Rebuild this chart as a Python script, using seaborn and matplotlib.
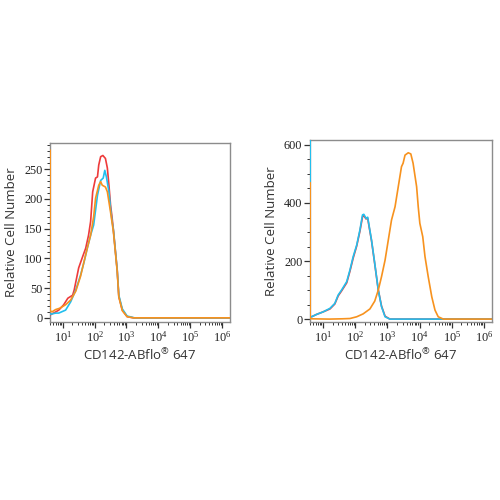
import numpy as np
import pandas as pd
import seaborn as sns
import matplotlib
matplotlib.use("Agg")
from matplotlib import pyplot as plt
from matplotlib.ticker import LogLocator, FuncFormatter, MultipleLocator, NullFormatter

# left panel (log10 of fluorescence, relative cell number)
left_red_x = [0.61, 0.78, 0.875, 1.03, 1.16, 1.31, 1.36, 1.5, 1.625, 1.72, 1.81, 1.875, 1.94, 2.03, 2.09, 2.13,
              2.19, 2.26, 2.34, 2.40, 2.45, 2.5, 2.55, 2.59, 2.71, 2.76, 2.87, 3.02, 3.22, 3.44, 6.25]
left_red_y = [5, 10, 13, 22, 33, 38, 47, 84, 103, 117, 139, 162, 212, 235, 237, 257,
              271, 273, 268, 252, 223, 190, 168, 148, 80, 36, 13, 2, 0, 0, 0]

left_cyan_x = [0.61, 0.78, 0.875, 1.09, 1.25, 1.41, 1.56, 1.67, 1.77, 1.875, 1.97, 2.09, 2.19, 2.27, 2.32,
               2.37, 2.45, 2.5, 2.55, 2.59, 2.71, 2.76, 2.87, 3.02, 3.25, 3.44, 6.25]
left_cyan_y = [6, 8, 8, 13, 27, 47, 72, 94, 117, 139, 156, 206, 231, 235, 248,
               237, 212, 184, 162, 148, 80, 38, 15, 3, 0, 0, 0]

left_orange_x = [0.605, 0.605, 0.66, 0.78, 0.9, 1.09, 1.25, 1.41, 1.56, 1.67, 1.77, 1.875, 1.97, 2.03, 2.13,
                 2.19, 2.24, 2.34, 2.40, 2.5, 2.59, 2.71, 2.76, 2.87, 3.02, 3.22, 3.44, 6.25]
left_orange_y = [282, 12, 10, 14, 16, 22, 30, 45, 70, 95, 117, 139, 170, 201, 223,
                 229, 223, 220, 212, 178, 145, 78, 35, 12, 2, 0, 0, 0]

# right panel
right_red_x = [0.65, 0.80, 1.01, 1.22, 1.37, 1.475, 1.58, 1.74, 1.84, 1.94, 2.05, 2.15, 2.23, 2.27,
               2.34, 2.39, 2.44, 2.51, 2.61, 2.72, 2.82, 2.93, 3.08, 6.25]
right_red_y = [8, 16, 25, 35, 52, 80, 97, 125, 165, 210, 252, 303, 352, 357,
               345, 348, 315, 270, 190, 100, 45, 10, 0, 0]

right_cyan_x = [0.605, 0.605, 0.65, 0.80, 1.01, 1.22, 1.37, 1.475, 1.58, 1.74, 1.84, 1.94, 2.05, 2.15, 2.23, 2.27,
                2.34, 2.39, 2.44, 2.51, 2.61, 2.72, 2.82, 2.93, 3.08, 6.25]
right_cyan_y = [700, 10, 8, 16, 25, 37, 54, 83, 100, 129, 169, 215, 255, 307, 359, 361,
                347, 351, 318, 272, 192, 100, 43, 8, 0, 0]

right_orange_x = [0.605, 0.605, 0.65, 1.2, 1.6, 1.84, 2.05, 2.25, 2.46, 2.61, 2.72, 2.82, 2.93, 3.03, 3.13, 3.24,
                  3.34, 3.44, 3.49, 3.55, 3.65, 3.73, 3.80, 3.91, 3.96, 4.01, 4.10, 4.17, 4.27,
                  4.38, 4.48, 4.58, 4.74, 6.25]
right_orange_y = [470, 2, 1, 0, 1, 2, 8, 18, 35, 62, 100, 146, 203, 272, 341, 387,
                  456, 525, 537, 565, 573, 569, 537, 456, 387, 330, 284, 215, 146,
                  77, 31, 8, 0, 0]

RED = "#ee3b3b"
CYAN = "#22bfee"
ORANGE = "#f7921e"

sns.set_theme(style="white")
plt.rcParams["font.family"] = ["Open Sans", "DejaVu Sans"]
plt.rcParams["mathtext.default"] = "regular"


def decade(v, pos):
    return r"$10^{%d}$" % round(np.log10(v))


def draw(ax, series, ylim, major, minor):
    for xs, ys, c in series:
        df = pd.DataFrame({"x": 10 ** np.array(xs), "y": ys})
        sns.lineplot(data=df, x="x", y="y", color=c, lw=1.2, sort=False,
                     estimator=None, ax=ax, zorder=3)
    ax.set_xscale("log")
    ax.set_xlim(10 ** 0.6, 10 ** 6.25)
    ax.set_ylim(*ylim)
    ax.xaxis.set_major_locator(LogLocator(base=10, numticks=10))
    ax.xaxis.set_major_formatter(FuncFormatter(decade))
    ax.xaxis.set_minor_locator(LogLocator(base=10, subs=np.arange(2, 10), numticks=20))
    ax.xaxis.set_minor_formatter(NullFormatter())
    ax.yaxis.set_major_locator(MultipleLocator(major))
    ax.yaxis.set_minor_locator(MultipleLocator(minor))
    ax.tick_params(axis="both", which="major", direction="out", length=4, width=0.9,
                   color="#333333", bottom=True, left=True, pad=1.5)
    ax.tick_params(axis="both", which="minor", direction="out", length=2, width=0.7,
                   color="#333333", bottom=True, left=True)
    for lab in ax.get_xticklabels() + ax.get_yticklabels():
        lab.set_family(["Liberation Serif", "DejaVu Serif"])
        lab.set_fontsize(8.8)
        lab.set_color("#222222")
    for s in ax.spines.values():
        s.set_color("#8c8c8c")
        s.set_linewidth(1.0)
    ax.set_xlabel(r"CD142-ABflo$^{\circledR}$ 647", fontsize=9.5, color="#333333", labelpad=2)
    ax.set_ylabel("Relative Cell Number", fontsize=9.5, color="#333333", labelpad=4)


fig = plt.figure(figsize=(5, 5), dpi=100)
ax1 = fig.add_axes([0.10, 0.356, 0.36, 0.358])
ax2 = fig.add_axes([0.62, 0.356, 0.364, 0.364])

draw(ax1, [(left_red_x, left_red_y, RED), (left_cyan_x, left_cyan_y, CYAN),
           (left_orange_x, left_orange_y, ORANGE)], (-7, 294), 50, 10)
draw(ax2, [(right_red_x, right_red_y, RED), (right_cyan_x, right_cyan_y, CYAN),
           (right_orange_x, right_orange_y, ORANGE)], (-10, 617), 200, 50)

fig.savefig("out.png", dpi=100)
